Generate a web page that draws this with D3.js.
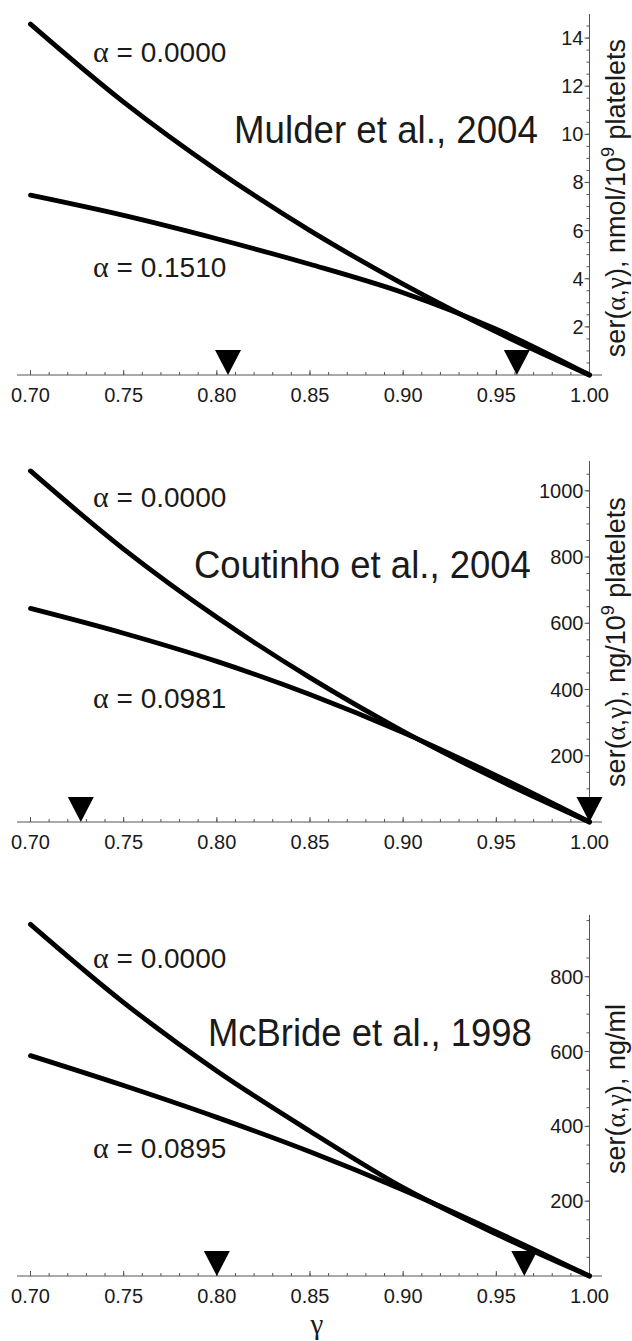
<!DOCTYPE html>
<html>
<head>
<meta charset="utf-8">
<script src="https://cdn.jsdelivr.net/npm/d3@7"></script>
<style>
  html, body { margin: 0; padding: 0; background: #fff; }
  svg { display: block; }
</style>
</head>
<body>
<svg id="chart" width="632" height="1341"></svg>
<script>
// ---------------- data ----------------
const gamma = [0.70, 0.75, 0.80, 0.85, 0.90, 0.95, 1.00];

const mulderAlpha0   = [14.58, 11.34, 8.51, 6.00, 3.78, 1.79, 0];
const mulderAlpha1   = [7.47, 6.63, 5.66, 4.60, 3.42, 1.90, 0];
const coutinhoAlpha0 = [1060, 824, 618, 436, 274, 130, 0];
const coutinhoAlpha1 = [645, 570, 485, 385, 270, 140, 0];
const mcbrideAlpha0  = [940, 731, 548, 387, 236, 112, 0];
const mcbrideAlpha1  = [589, 509, 424, 332, 230, 118, 0];

const mulderMarkers   = [0.806, 0.961];
const coutinhoMarkers = [0.727, 1.000];
const mcbrideMarkers  = [0.800, 0.965];

const alphaLabelsMulder   = ["0.0000", "0.1510"];
const alphaLabelsCoutinho = ["0.0000", "0.0981"];
const alphaLabelsMcbride  = ["0.0000", "0.0895"];

const citations = ["Mulder et al., 2004", "Coutinho et al., 2004", "McBride et al., 1998"];
const yUnits = [["nmol/10", "9", " platelets"], ["ng/10", "9", " platelets"], ["ng/ml", "", ""]];

const xTicks = [0.70, 0.75, 0.80, 0.85, 0.90, 0.95, 1.00];
const xMinorTicks = d3.range(70, 101).map(d => d / 100);
const yTicksMulder   = [2, 4, 6, 8, 10, 12, 14];
const yTicksCoutinho = [200, 400, 600, 800, 1000];
const yTicksMcbride  = [200, 400, 600, 800];
const yMinorMulder   = d3.range(1, 30).map(d => d * 0.5);
const yMinorCoutinho = d3.range(1, 22).map(d => d * 50);
const yMinorMcbride  = d3.range(1, 20).map(d => d * 50);

const yDomains = [[0, 15], [0, 1090], [0, 965]];

// ---------------- layout ----------------
const panels = [
  { a0: mulderAlpha0, a1: mulderAlpha1, markers: mulderMarkers, labels: alphaLabelsMulder,
    yTicks: yTicksMulder, yMinor: yMinorMulder, domain: yDomains[0], cite: citations[0], unit: yUnits[0],
    axisY: 375, topY: 14, labY: [62, 277], citeY: 143, citeX0: 234, citeX1: 538, titleY: 198 },
  { a0: coutinhoAlpha0, a1: coutinhoAlpha1, markers: coutinhoMarkers, labels: alphaLabelsCoutinho,
    yTicks: yTicksCoutinho, yMinor: yMinorCoutinho, domain: yDomains[1], cite: citations[1], unit: yUnits[1],
    axisY: 822, topY: 461, labY: [507, 708], citeY: 578, citeX0: 194, citeX1: 531, titleY: 642 },
  { a0: mcbrideAlpha0, a1: mcbrideAlpha1, markers: mcbrideMarkers, labels: alphaLabelsMcbride,
    yTicks: yTicksMcbride, yMinor: yMinorMcbride, domain: yDomains[2], cite: citations[2], unit: yUnits[2],
    axisY: 1276, topY: 915, labY: [968, 1158], citeY: 1046, citeX0: 208, citeX1: 532, titleY: 1089 }
];

const svg = d3.select("#chart");
const x = d3.scaleLinear().domain([0.70, 1.00]).range([30.5, 589.5]);
const axisColor = "#555";
const textColor = "#1a1a1a";
const sans = "'Liberation Sans', Arial, sans-serif";
const serif = "'Liberation Serif', 'Times New Roman', serif";

panels.forEach(p => {
  const y = d3.scaleLinear().domain(p.domain).range([p.axisY, p.topY]);
  const g = svg.append("g");

  // x axis
  g.append("line")
    .attr("x1", 17).attr("x2", 602)
    .attr("y1", p.axisY).attr("y2", p.axisY)
    .attr("stroke", axisColor).attr("stroke-width", 1);
  g.selectAll(".xminor").data(xMinorTicks).join("line")
    .attr("x1", d => x(d)).attr("x2", d => x(d))
    .attr("y1", p.axisY).attr("y2", p.axisY - 3)
    .attr("stroke", axisColor).attr("stroke-width", 1);
  g.selectAll(".xmajor").data(xTicks).join("line")
    .attr("x1", d => x(d)).attr("x2", d => x(d))
    .attr("y1", p.axisY).attr("y2", p.axisY - 5)
    .attr("stroke", axisColor).attr("stroke-width", 1);
  g.selectAll(".xlab").data(xTicks).join("text")
    .attr("x", d => x(d)).attr("y", p.axisY + 27)
    .attr("text-anchor", "middle")
    .attr("font-family", sans).attr("font-size", 20).attr("fill", textColor)
    .text(d => d3.format(".2f")(d));

  // y axis (at gamma = 1)
  const ax = x(1.0);
  g.append("line")
    .attr("x1", ax).attr("x2", ax)
    .attr("y1", p.axisY).attr("y2", p.topY)
    .attr("stroke", axisColor).attr("stroke-width", 1);
  g.selectAll(".yminor").data(p.yMinor).join("line")
    .attr("x1", ax).attr("x2", ax - 3)
    .attr("y1", d => y(d)).attr("y2", d => y(d))
    .attr("stroke", axisColor).attr("stroke-width", 1);
  g.selectAll(".ymajor").data(p.yTicks).join("line")
    .attr("x1", ax).attr("x2", ax - 5)
    .attr("y1", d => y(d)).attr("y2", d => y(d))
    .attr("stroke", axisColor).attr("stroke-width", 1);
  g.selectAll(".ylab").data(p.yTicks).join("text")
    .attr("x", ax - 6).attr("y", d => y(d)).attr("dy", "0.35em")
    .attr("text-anchor", "end")
    .attr("font-family", sans).attr("font-size", 20).attr("fill", textColor)
    .text(d => d);

  // markers (down-pointing triangles with tip on axis)
  g.selectAll(".marker").data(p.markers).join("path")
    .attr("d", d => {
      const cx = x(d), cy = y(0);
      return `M${cx - 13},${cy - 25}L${cx + 13},${cy - 25}L${cx},${cy}Z`;
    })
    .attr("fill", "#000");

  // curves
  const line = d3.line()
    .x((d, i) => x(gamma[i]))
    .y(d => y(d))
    .curve(d3.curveCatmullRom.alpha(0.5));
  [p.a0, p.a1].forEach(series => {
    g.append("path")
      .attr("d", line(series))
      .attr("fill", "none")
      .attr("stroke", "#000")
      .attr("stroke-width", 4.8)
      .attr("stroke-linecap", "round")
      .attr("stroke-linejoin", "round");
  });

  // alpha labels
  p.labels.forEach((lab, i) => {
    const t = g.append("text")
      .attr("x", 93).attr("y", p.labY[i])
      .attr("font-family", sans).attr("font-size", 28).attr("fill", textColor);
    t.append("tspan").attr("font-family", serif).attr("font-size", 30).text("α");
    t.append("tspan").text(" = " + lab);
  });

  // citation: condensed to the measured width via a horizontal scale
  const cite = g.append("text")
    .attr("x", 0).attr("y", 0)
    .attr("font-family", sans).attr("font-size", 39).attr("fill", textColor)
    .text(p.cite);
  const natural = cite.node().getComputedTextLength();
  const k = (p.citeX1 - p.citeX0) / natural;
  cite.attr("transform", `translate(${p.citeX0},${p.citeY}) scale(${k},1)`);

  // y axis title (rotated)
  const tt = g.append("text")
    .attr("transform", `translate(625,${p.titleY}) rotate(-90)`)
    .attr("text-anchor", "middle")
    .attr("font-family", sans).attr("font-size", 27).attr("fill", textColor);
  tt.append("tspan").text("ser(");
  tt.append("tspan").attr("font-family", serif).text("α");
  tt.append("tspan").text(",");
  tt.append("tspan").attr("font-family", serif).text("γ");
  tt.append("tspan").text("), " + p.unit[0]);
  if (p.unit[1]) {
    tt.append("tspan").attr("font-size", 18).attr("dy", -11).text(p.unit[1]);
    tt.append("tspan").attr("dy", 11).text(p.unit[2]);
  }
});

// bottom x axis title
svg.append("text")
  .attr("x", 317).attr("y", 1334)
  .attr("text-anchor", "middle")
  .attr("font-family", serif).attr("font-size", 29).attr("fill", textColor)
  .text("γ");
</script>
</body>
</html>
